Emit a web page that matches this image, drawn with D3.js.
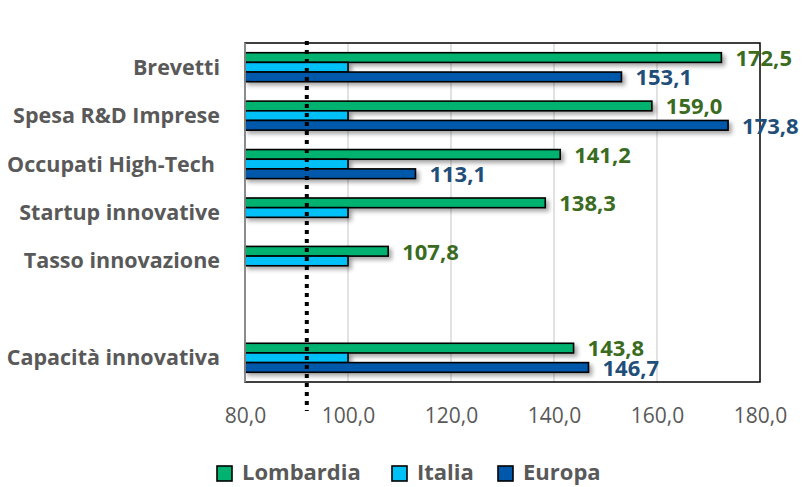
<!DOCTYPE html>
<html><head><meta charset="utf-8">
<script src="https://cdn.jsdelivr.net/npm/d3@7"></script>
<style>body{margin:0;background:#fff}svg{display:block}</style>
</head><body><svg id="c" width="805" height="487"></svg>
<script>
const categories = ["Brevetti","Spesa R&D Imprese","Occupati High-Tech","Startup innovative","Tasso innovazione","","Capacità innovativa"];
const series = ["Lombardia","Italia","Europa"];
const lombardia = [172.5,159.0,141.2,138.3,107.8,null,143.8];
const italia = [100,100,100,100,100,null,100];
const europa = [153.1,173.8,113.1,null,null,null,146.7];
const xTicks = [80,100,120,140,160,180];
const refValue = 92;
const colors = {Lombardia:"#00B26F",Italia:"#00C0F8",Europa:"#0058AA"};
const labelColors = {Lombardia:"#3A6B1F",Europa:"#1F4E79"};

const svg = d3.select("#c");
const L=245,R=760,T=43,B=382;
const x = d3.scaleLinear().domain([80,180]).range([L,R]);
const y = d3.scaleBand().domain(categories.map((c,i)=>i)).range([T,B]);
const gh = 29;
const ys = d3.scaleBand().domain(series).range([-gh/2,gh/2]);

const defs = svg.append("defs");
const f = defs.append("filter").attr("id","sh").attr("x","-5%").attr("y","-50%").attr("width","115%").attr("height","250%");
f.append("feDropShadow").attr("dx",3).attr("dy",3).attr("stdDeviation",2).attr("flood-color","#000").attr("flood-opacity",0.35);

// gridlines
svg.append("g").selectAll("line").data(xTicks.slice(1,-1)).join("line")
  .attr("x1",d=>x(d)).attr("x2",d=>x(d)).attr("y1",T).attr("y2",B)
  .attr("stroke","#d9d9d9").attr("stroke-width",1.5);

// bars
const dataMap = {Lombardia:lombardia,Italia:italia,Europa:europa};
const rows=[];
categories.forEach((c,i)=>series.forEach(s=>{const v=dataMap[s][i]; if(v!=null) rows.push({i,s,v});}));
svg.append("g").selectAll("rect").data(rows).join("rect")
  .attr("x",x(80)).attr("width",d=>x(d.v)-x(80))
  .attr("y",d=>y(d.i)+y.bandwidth()/2+ys(d.s)).attr("height",ys.bandwidth())
  .attr("fill",d=>colors[d.s]).attr("stroke","#000").attr("stroke-width",1.6)
  .attr("filter","url(#sh)");

// plot border
svg.append("rect").attr("x",L).attr("y",T).attr("width",R-L).attr("height",B-T)
  .attr("fill","none").attr("stroke","#000").attr("stroke-width",1.5);
svg.append("line").attr("x1",L).attr("x2",L).attr("y1",T).attr("y2",B).attr("stroke","#a6a6a6").attr("stroke-width",1.5);

// reference dotted line
svg.append("line").attr("x1",x(refValue)).attr("x2",x(refValue)).attr("y1",41).attr("y2",411)
  .attr("stroke","#000").attr("stroke-width",4).attr("stroke-dasharray","4,5");

// x axis
const xa = svg.append("g").attr("transform",`translate(0,${B})`)
  .call(d3.axisBottom(x).tickValues(xTicks).tickSize(0).tickPadding(26).tickFormat(d=>d3.format(".1f")(d).replace(".",",")));
xa.select(".domain").remove();
xa.selectAll("text").attr("font-family","Open Sans").attr("font-size",21).attr("fill","#595959").attr("dy","0.71em");

// category labels
svg.append("g").selectAll("text").data(categories).join("text")
  .attr("x",d=>d.startsWith("Occupati")?215:220).attr("y",(d,i)=>y(i)+y.bandwidth()/2).attr("dy","0.35em")
  .attr("text-anchor","end").attr("font-family","Open Sans").attr("font-weight","bold").attr("font-size",21.5)
  .attr("fill","#595959").text(d=>d);

// data labels
svg.append("g").selectAll("text").data(rows.filter(r=>r.s!=="Italia")).join("text")
  .attr("x",d=>x(d.v)+14).attr("y",d=>y(d.i)+y.bandwidth()/2+ys(d.s)+ys.bandwidth()/2).attr("dy","0.38em")
  .attr("font-family","Open Sans").attr("font-weight","bold").attr("font-size",22)
  .attr("fill",d=>labelColors[d.s]).text(d=>d3.format(".1f")(d.v).replace(".",","));

// legend
const legX = [217,392,498];
const lg = svg.append("g").selectAll("g").data(series).join("g").attr("transform",(d,i)=>`translate(${legX[i]},472)`);
lg.append("rect").attr("x",0).attr("y",-6).attr("width",15).attr("height",15).attr("fill",d=>colors[d]).attr("stroke","#000").attr("stroke-width",1.6);
lg.append("text").attr("x",25).attr("y",0).attr("dy","0.35em").attr("font-family","Open Sans").attr("font-weight","bold")
  .attr("font-size",22).attr("fill","#595959").text(d=>d);
</script></body></html>
